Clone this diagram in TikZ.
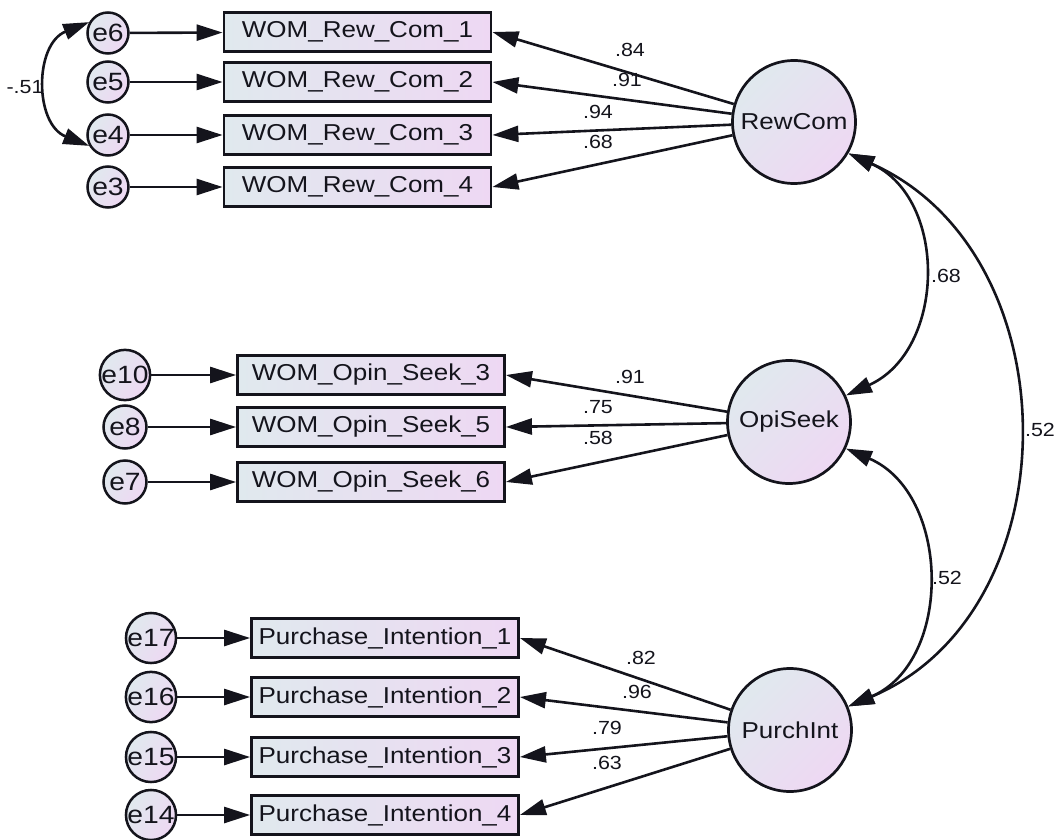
\documentclass[tikz,border=0pt]{standalone}
\usepackage{fontspec}
\setmainfont{Liberation Sans}[FakeStretch=1.13]
\usetikzlibrary{arrows.meta}
\definecolor{shadeA}{RGB}{224,233,238}
\definecolor{shadeB}{RGB}{238,216,243}
\definecolor{ink}{RGB}{20,20,28}
\begin{document}
\begin{tikzpicture}[x=1pt,y=-1pt,
  line width=2.6pt, draw=ink, text=ink,
  tip/.tip={Triangle[length=26pt,width=16pt]},
  obs/.style={draw=ink, line width=2.8pt, left color=shadeA, right color=shadeB,
    minimum width=267pt, minimum height=39pt, inner sep=0pt,
    font=\fontsize{23}{25}\selectfont},
  err/.style={draw=ink, circle, line width=2.5pt, left color=shadeA, right color=shadeB,
    shading angle=60, minimum size=41pt, inner sep=0pt,
    font=\fontsize{25}{27}\selectfont},
  lat/.style={draw=ink, circle, line width=2.7pt, left color=shadeA, right color=shadeB,
    shading angle=45, minimum size=123pt, inner sep=0pt,
    font=\fontsize{23}{25}\selectfont},
  coef/.style={inner sep=0pt, font=\fontsize{19}{21}\selectfont},
  load/.style={draw=ink, -tip},
  cov/.style={draw=ink, tip-tip}]
\useasboundingbox (0,0) rectangle (1057,840);

% latent factors
\node[lat] (rc) at (794,122) {RewCom};
\node[lat] (os) at (789,422) {OpiSeek};
\node[lat] (pi) at (790,730) {PurchInt};

% indicators of RewCom
\node[obs] (r1) at (357.5,32) {WOM\_Rew\_Com\_1};
\node[obs] (r2) at (357.5,82) {WOM\_Rew\_Com\_2};
\node[obs] (r3) at (357.5,135) {WOM\_Rew\_Com\_3};
\node[obs] (r4) at (357.5,187) {WOM\_Rew\_Com\_4};
\node[err] (e6) at (108,33) {e6};
\node[err] (e5) at (108,82) {e5};
\node[err] (e4) at (108,135) {e4};
\node[err] (e3) at (108,187) {e3};

% indicators of OpiSeek
\node[obs] (o3) at (371,375) {WOM\_Opin\_Seek\_3};
\node[obs] (o5) at (371,427) {WOM\_Opin\_Seek\_5};
\node[obs] (o6) at (371,482) {WOM\_Opin\_Seek\_6};
\node[err, minimum size=43pt] (e10) at (125,375) {e10};
\node[err, minimum size=43pt] (e8) at (125,427) {e8};
\node[err, minimum size=43pt] (e7) at (125,482) {e7};

% indicators of PurchInt
\node[obs] (p1) at (385,638) {Purchase\_Intention\_1};
\node[obs] (p2) at (385,697) {Purchase\_Intention\_2};
\node[obs] (p3) at (385,757) {Purchase\_Intention\_3};
\node[obs] (p4) at (385,815) {Purchase\_Intention\_4};
\node[err, minimum size=44pt] (e17) at (151,638) {e17};
\node[err, minimum size=44pt] (e16) at (151,697) {e16};
\node[err, minimum size=44pt] (e15) at (151,757) {e15};
\node[err, minimum size=44pt] (e14) at (151,815) {e14};

% error paths
\foreach \e/\o in {e6/r1,e5/r2,e4/r3,e3/r4,e10/o3,e8/o5,e7/o6,e17/p1,e16/p2,e15/p3,e14/p4}
  \draw[load] (\e) -- (\o);

% factor loadings
\foreach \o in {r1,r2,r3,r4} \draw[load] (rc) -- (\o.east);
\foreach \o in {o3,o5,o6} \draw[load] (os) -- (\o.east);
\foreach \o in {p1,p2,p3,p4} \draw[load] (pi) -- (\o.east);

% covariances
\draw[cov] (e6.150) .. controls +(-55,22) and +(-55,-22) .. (e4.-150);
\draw[cov] (rc.-30) .. controls +(100,45) and +(100,-45) .. (os.25);
\draw[cov] (rc.-30) .. controls +(225,100) and +(225,-95) .. (pi.22);
\draw[cov] (os.-25) .. controls +(105,45) and +(105,-45) .. (pi.22);

% estimates
\node[coef] (c1) at (630,50) {.84};
\node[coef] (c2) at (627,80) {.91};
\node[coef] (c3) at (598,112) {.94};
\node[coef] (c4) at (598,142) {.68};
\node[coef] (c5) at (25,87) {-.51};
\node[coef] (c6) at (946,276) {.68};
\node[coef] (c7) at (1040,430) {.52};
\node[coef] (c8) at (630,377) {.91};
\node[coef] (c9) at (598,407) {.75};
\node[coef] (c10) at (598,438) {.58};
\node[coef] (c11) at (947,578) {.52};
\node[coef] (c12) at (641,658) {.82};
\node[coef] (c13) at (637,692) {.96};
\node[coef] (c14) at (607,728) {.79};
\node[coef] (c15) at (607,763) {.63};
\end{tikzpicture}
\end{document}
